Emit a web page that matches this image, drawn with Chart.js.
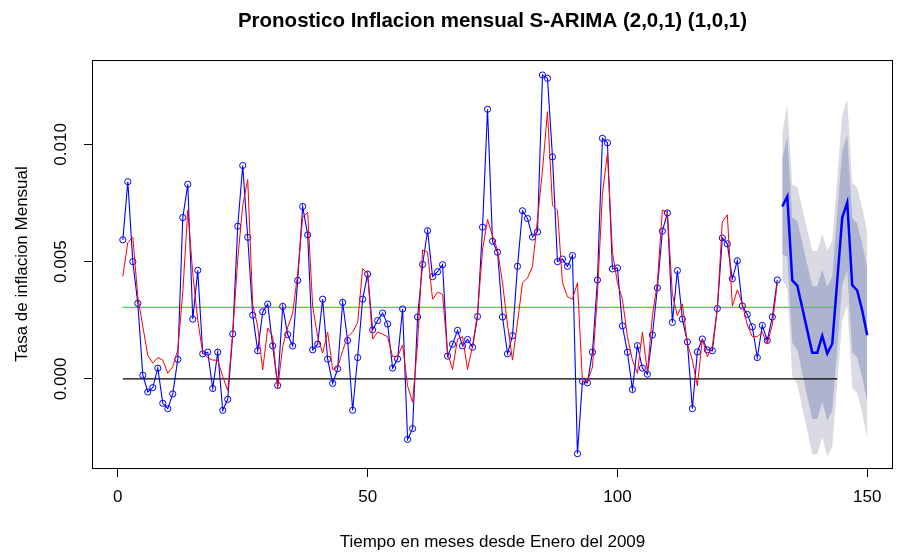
<!DOCTYPE html>
<html>
<head>
<meta charset="utf-8">
<script src="https://cdn.jsdelivr.net/npm/chart.js@4.4.1/dist/chart.umd.min.js"></script>
<style>
  body { margin: 0; background: #fff; }
  canvas { display: block; }
</style>
</head>
<body>
<canvas id="forecastChart" width="897" height="553"></canvas>
<script>
// monthly inflation rate, Jan 2009 onwards
var observed = [
  0.00593, 0.00841, 0.00500, 0.00322, 0.00016, -0.00056, -0.00037, 0.00046, -0.00104, -0.00127, -0.00064, 0.00083,
  0.00688, 0.00830, 0.00255, 0.00463, 0.00107, 0.00114, -0.00041, 0.00114, -0.00134, -0.00087, 0.00192, 0.00651,
  0.00910, 0.00604, 0.00272, 0.00120, 0.00286, 0.00319, 0.00141, -0.00028, 0.00309, 0.00189, 0.00140, 0.00420,
  0.00735, 0.00614, 0.00124, 0.00148, 0.00340, 0.00084, -0.00019, 0.00043, 0.00326, 0.00164, -0.00134, 0.00091,
  0.00340, 0.00447, 0.00209, 0.00249, 0.00281, 0.00234, 0.00046, 0.00085, 0.00298, -0.00258, -0.00212, 0.00264,
  0.00488, 0.00632, 0.00436, 0.00457, 0.00487, 0.00097, 0.00148, 0.00207, 0.00141, 0.00168, 0.00135, 0.00266,
  0.00647, 0.01150, 0.00587, 0.00540, 0.00264, 0.00107, 0.00184, 0.00480, 0.00717, 0.00684, 0.00605, 0.00627,
  0.01296, 0.01282, 0.00947, 0.00500, 0.00511, 0.00480, 0.00526, -0.00319, -0.00010, -0.00017, 0.00114, 0.00422,
  0.01026, 0.01007, 0.00469, 0.00473, 0.00226, 0.00114, -0.00045, 0.00142, 0.00046, 0.00020, 0.00187, 0.00388,
  0.00630, 0.00708, 0.00241, 0.00462, 0.00255, 0.00158, -0.00127, 0.00115, 0.00170, 0.00124, 0.00120, 0.00300,
  0.00601, 0.00576, 0.00427, 0.00504, 0.00311, 0.00275, 0.00222, 0.00091, 0.00228, 0.00164, 0.00264, 0.00422
];

// fitted values of the model (red)
var fitted = [
  0.00437, 0.00582, 0.00604, 0.00350, 0.00224, 0.00100, 0.00067, 0.00091, 0.00080, 0.00024, 0.00053, 0.00124,
  0.00368, 0.00720, 0.00450, 0.00250, 0.00110, 0.00090, 0.00080, 0.00080, 0.00010, -0.00050, 0.00195, 0.00510,
  0.00740, 0.00850, 0.00316, 0.00224, 0.00038, 0.00217, 0.00180, -0.00040, 0.00138, 0.00220, 0.00280, 0.00450,
  0.00690, 0.00710, 0.00310, 0.00180, 0.00110, 0.00200, 0.00040, 0.00050, 0.00120, 0.00180, 0.00200, 0.00240,
  0.00470, 0.00450, 0.00170, 0.00200, 0.00190, 0.00180, 0.00095, 0.00095, 0.00145, -0.00030, -0.00100, 0.00150,
  0.00550, 0.00540, 0.00340, 0.00370, 0.00360, 0.00110, 0.00040, 0.00170, 0.00180, 0.00040, 0.00140, 0.00280,
  0.00550, 0.00680, 0.00610, 0.00550, 0.00410, 0.00230, 0.00080, 0.00240, 0.00410, 0.00430, 0.00480, 0.00680,
  0.00890, 0.01140, 0.00740, 0.00720, 0.00410, 0.00350, 0.00340, 0.00410, -0.00010, -0.00010, 0.00050, 0.00360,
  0.00790, 0.00960, 0.00540, 0.00410, 0.00340, 0.00180, 0.00080, 0.00024, 0.00200, 0.00030, 0.00270, 0.00410,
  0.00720, 0.00710, 0.00360, 0.00270, 0.00320, 0.00150, 0.00080, -0.00030, 0.00170, 0.00095, 0.00140, 0.00300,
  0.00670, 0.00700, 0.00310, 0.00380, 0.00320, 0.00230, 0.00180, 0.00180, 0.00200, 0.00150, 0.00230, 0.00410
];

// forecast months 133..150
var forecastStart = 133;
var forecastMean = [0.00735, 0.00778, 0.00420, 0.00398, 0.00303, 0.00207, 0.00112, 0.00112, 0.00184,
                    0.00108, 0.00150, 0.00419, 0.00688, 0.00752, 0.00400, 0.00377, 0.00292, 0.00186];
var lo80 = [0.00530, 0.00522, 0.00153, 0.00123, 0.00025, -0.00074, -0.00171, -0.00171, -0.00099,
            -0.00178, -0.00136, 0.00133, 0.00402, 0.00466, 0.00114, 0.00091, 0.00006, -0.00100];
var hi80 = [0.00940, 0.01034, 0.00687, 0.00673, 0.00581, 0.00488, 0.00395, 0.00395, 0.00467,
            0.00394, 0.00436, 0.00705, 0.00974, 0.01038, 0.00686, 0.00663, 0.00578, 0.00472];
var lo95 = [0.00421, 0.00387, 0.00012, -0.00023, -0.00122, -0.00222, -0.00321, -0.00321, -0.00249,
            -0.00330, -0.00288, -0.00019, 0.00250, 0.00314, -0.00038, -0.00061, -0.00146, -0.00252];
var hi95 = [0.01049, 0.01169, 0.00828, 0.00819, 0.00728, 0.00636, 0.00545, 0.00545, 0.00617,
            0.00546, 0.00588, 0.00857, 0.01126, 0.01190, 0.00838, 0.00815, 0.00730, 0.00624];

// reference lines (green = mean, black = zero), drawn over months 1..144
var meanLevel = 0.00305;
var zeroLevel = 0;
var refLineMonths = [1, 144];

var xTicks = [0, 50, 100, 150];
var yTicks = [0, 0.005, 0.010];

function series(values, start) {
  return values.map(function (v, i) { return { x: start + i, y: v }; });
}
function flat(level) {
  return refLineMonths.map(function (m) { return { x: m, y: level }; });
}

var font = 'Liberation Sans, Arial, Helvetica, sans-serif';

// box around the plot region like R's bty="o"
var plotBox = {
  id: 'plotBox',
  afterDraw: function (chart) {
    var a = chart.chartArea, ctx = chart.ctx;
    ctx.save();
    ctx.strokeStyle = '#000';
    ctx.lineWidth = 1;
    ctx.strokeRect(Math.round(a.left) - 0.5, Math.round(a.top) + 0.5,
                   Math.round(a.right - a.left) + 1, Math.round(a.bottom - a.top));
    ctx.restore();
  }
};

var ctx = document.getElementById('forecastChart').getContext('2d');
new Chart(ctx, {
  type: 'line',
  data: {
    datasets: [
      { data: series(fitted, 1), borderColor: '#ff0000', borderWidth: 1, pointRadius: 0, fill: false },
      { data: series(observed, 1), borderColor: '#0000ff', borderWidth: 1.1,
        pointRadius: 3.1, pointBorderWidth: 1, pointBorderColor: '#0000ff',
        pointBackgroundColor: 'rgba(0,0,0,0)', fill: false },
      { data: series(forecastMean, forecastStart), borderColor: '#0000ff', borderWidth: 2.5, pointRadius: 0, fill: false },
      { data: flat(meanLevel), borderColor: '#2fe02f', borderWidth: 1.4, pointRadius: 0, fill: false },
      { data: flat(zeroLevel), borderColor: '#000', borderWidth: 1.2, pointRadius: 0, fill: false },
      { data: series(hi80, forecastStart), borderWidth: 0, borderColor: 'rgba(0,0,0,0)', pointRadius: 0,
        fill: '+1', backgroundColor: '#aeb4d0' },
      { data: series(lo80, forecastStart), borderWidth: 0, borderColor: 'rgba(0,0,0,0)', pointRadius: 0, fill: false },
      { data: series(hi95, forecastStart), borderWidth: 0, borderColor: 'rgba(0,0,0,0)', pointRadius: 0,
        fill: '+1', backgroundColor: '#dadae2' },
      { data: series(lo95, forecastStart), borderWidth: 0, borderColor: 'rgba(0,0,0,0)', pointRadius: 0, fill: false }
    ]
  },
  options: {
    responsive: false,
    devicePixelRatio: 1,
    animation: false,
    layout: { padding: { left: 0, right: 4, top: 0, bottom: 0 } },
    elements: { line: { tension: 0 } },
    plugins: {
      legend: { display: false },
      tooltip: { enabled: false },
      title: {
        display: true,
        text: 'Pronostico Inflacion mensual S-ARIMA (2,0,1) (1,0,1)',
        fullSize: false,
        color: '#000',
        font: { family: font, size: 20.5, weight: 'bold' },
        padding: { top: 9, bottom: 26.4 }
      }
    },
    scales: {
      x: {
        type: 'linear',
        min: -4.97,
        max: 154.96,
        afterBuildTicks: function (s) { s.ticks = xTicks.map(function (v) { return { value: v }; }); },
        afterFit: function (s) { s.height = 85; },
        grid: { display: true, drawOnChartArea: false, drawTicks: true, tickLength: 9, tickColor: '#000', color: '#000' },
        border: { display: false },
        ticks: { color: '#000', padding: 10, maxRotation: 0, font: { family: font, size: 17 } },
        title: { display: true, text: 'Tiempo en meses desde Enero del 2009', color: '#000',
                 font: { family: font, size: 17 }, padding: { top: 0, bottom: 0 } }
      },
      y: {
        type: 'linear',
        min: -0.0038,
        max: 0.0136,
        afterBuildTicks: function (s) { s.ticks = yTicks.map(function (v) { return { value: v }; }); },
        afterFit: function (s) { s.width = 93; },
        grid: { display: true, drawOnChartArea: false, drawTicks: true, tickLength: 9, tickColor: '#000', color: '#000' },
        border: { display: false },
        ticks: {
          color: '#000', padding: 1, minRotation: 90, maxRotation: 90, crossAlign: 'center',
          font: { family: font, size: 17 },
          callback: function (v) { return v.toFixed(3); }
        },
        title: { display: true, text: 'Tasa de inflacion Mensual', color: '#000',
                 font: { family: font, size: 17 }, padding: { top: 12, bottom: 0 } }
      }
    }
  },
  plugins: [plotBox]
});
</script>
</body>
</html>
